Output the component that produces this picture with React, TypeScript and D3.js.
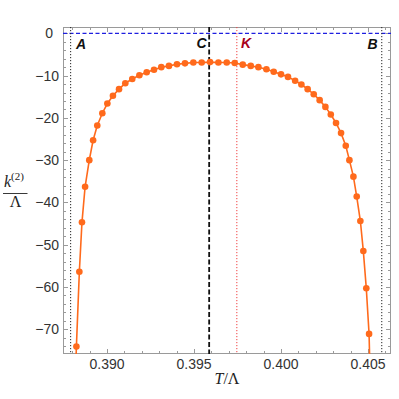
import { useEffect, useRef } from "react"
import * as d3 from "d3"

const tValues = [
  0.38812, 0.38824, 0.38841, 0.38856, 0.38874, 0.38898, 0.3892, 0.38944, 0.38973, 0.39002,
  0.39034, 0.39069, 0.39105, 0.39145, 0.39186, 0.39228, 0.3927, 0.39312, 0.39356, 0.39402,
  0.39448, 0.39496, 0.39544, 0.39592, 0.3964, 0.39688, 0.39734, 0.3978, 0.39826, 0.3987,
  0.39916, 0.39958, 0.4, 0.4004, 0.40081, 0.40117, 0.40153, 0.40188, 0.40222, 0.40255,
  0.40286, 0.40316, 0.40345, 0.40372, 0.40393, 0.40416, 0.40435, 0.40456, 0.40473, 0.4049,
  0.40506, 0.40514,
]
// k^(2)/Λ values
const kValues = [
  -90, -74.1, -56.4, -44.7, -36.3, -30.0, -25.3, -21.8, -18.9, -16.6,
  -14.75, -13.2, -11.8, -10.8, -9.9, -9.2, -8.6, -8.0, -7.7, -7.3,
  -7.1, -6.9, -6.9, -6.8, -6.9, -6.9, -7.0, -7.4, -7.7, -8.0,
  -8.5, -9.1, -9.7, -10.3, -11.2, -12.1, -13.2, -14.4, -15.8, -17.4,
  -19.2, -21.2, -23.6, -26.6, -30.0, -33.9, -38.6, -44.4, -51.5, -60.3,
  -71.1, -85,
]
// points that are only there so the line leaves the frame
const offFrame = [0, 51]

const xTicks = [0.39, 0.395, 0.4, 0.405]
const yTicks = [0, -10, -20, -30, -40, -50, -60, -70]

// vertical marker lines
const markers = [
  { name: "A", t: 0.38791, kind: "dotted" },
  { name: "C", t: 0.39587, kind: "dashed" },
  { name: "K", t: 0.39746, kind: "red" },
  { name: "B", t: 0.40579, kind: "dotted" },
]

const App = () => {
  const svgRef = useRef(null)

  useEffect(() => {
    const width = 399
    const height = 399
    const left = 63
    const right = 391
    const top = 27
    const bottom = 354

    const x = d3.scaleLinear().domain([0.38747, 0.40632]).range([left, right])
    const y = d3.scaleLinear().domain([1.5, -75.85]).range([top, bottom])

    const svg = d3.select(svgRef.current).attr("width", width).attr("height", height)
    svg.selectAll("*").remove()

    svg.append("defs").append("clipPath").attr("id", "plotclip")
      .append("rect").attr("x", left).attr("y", top).attr("width", right - left).attr("height", bottom - top)

    const frameColor = "#9a9a9a"

    // ticks on all four sides, pointing inward
    const ticks = svg.append("g").attr("stroke", frameColor).attr("stroke-width", 1)
    const xMinor = d3.range(0.388, 0.4065, 0.001)
    xMinor.forEach((t) => {
      const major = xTicks.some((m) => Math.abs(m - t) < 1e-6)
      const len = major ? 5 : 3
      const px = Math.round(x(t)) + 0.5
      ticks.append("line").attr("x1", px).attr("x2", px).attr("y1", bottom).attr("y2", bottom - len)
      ticks.append("line").attr("x1", px).attr("x2", px).attr("y1", top).attr("y2", top + len)
    })
    d3.range(0, -76, -2).forEach((v) => {
      const major = v % 10 === 0
      const len = major ? 5 : 3
      const py = Math.round(y(v)) + 0.5
      ticks.append("line").attr("x1", left).attr("x2", left + len).attr("y1", py).attr("y2", py)
      ticks.append("line").attr("x1", right).attr("x2", right - len).attr("y1", py).attr("y2", py)
    })

    // frame
    svg.append("rect")
      .attr("x", left + 0.5).attr("y", top + 0.5)
      .attr("width", right - left - 1).attr("height", bottom - top - 1)
      .attr("fill", "none").attr("stroke", frameColor).attr("stroke-width", 1)

    // tick labels
    svg.append("g").selectAll("text").data(xTicks).enter().append("text")
      .attr("x", (d) => x(d)).attr("y", 368.5)
      .attr("text-anchor", "middle")
      .style("font-family", "Liberation Sans, Arial, sans-serif").style("font-size", "14px")
      .attr("fill", "#333")
      .text((d) => d3.format(".3f")(d))

    svg.append("g").selectAll("text").data(yTicks).enter().append("text")
      .attr("x", (d) => (d === 0 ? 53 : 59)).attr("y", (d) => y(d) + 5)
      .attr("text-anchor", "end")
      .style("font-family", "Liberation Sans, Arial, sans-serif").style("font-size", "14px")
      .attr("fill", "#333")
      .text((d) => (d < 0 ? "\u2212" + Math.abs(d) : String(d)))

    const plot = svg.append("g").attr("clip-path", "url(#plotclip)")

    // horizontal zero line
    plot.append("line")
      .attr("x1", left).attr("x2", right).attr("y1", y(0)).attr("y2", y(0))
      .attr("stroke", "#1f1fe0").attr("stroke-width", 1.3).attr("stroke-dasharray", "4,2.5")

    // vertical markers
    markers.forEach((m) => {
      const line = plot.append("line")
        .attr("x1", x(m.t)).attr("x2", x(m.t)).attr("y1", top).attr("y2", bottom)
      if (m.kind === "dashed") line.attr("stroke", "#111").attr("stroke-width", 1.8).attr("stroke-dasharray", "5,2.5")
      else if (m.kind === "red") line.attr("stroke", "#f04040").attr("stroke-width", 1).attr("stroke-dasharray", "1.2,1.8")
      else line.attr("stroke", "#222").attr("stroke-width", 1).attr("stroke-dasharray", "1.2,1.8")
    })

    // curve
    const pts = tValues.map((t, i) => [t, kValues[i]])
    const line = d3.line().x((d) => x(d[0])).y((d) => y(d[1]))
    plot.append("path").datum(pts).attr("d", line)
      .attr("fill", "none").attr("stroke", "#ff6a1c").attr("stroke-width", 1.6)
    plot.selectAll("circle").data(pts.filter((d, i) => !offFrame.includes(i))).enter().append("circle")
      .attr("cx", (d) => x(d[0])).attr("cy", (d) => y(d[1])).attr("r", 3.3)
      .attr("fill", "#ff6a1c")

    // marker labels
    const labelPos = { A: [76, 49, "#111"], C: [196.5, 48, "#111"], K: [241, 48, "#a8001a"], B: [367.5, 49, "#111"] }
    Object.entries(labelPos).forEach(([name, [lx, ly, c]]) => {
      svg.append("text").attr("x", lx).attr("y", ly)
        .style("font-family", "Liberation Sans, Arial, sans-serif").style("font-size", "14px")
        .style("font-weight", "bold").style("font-style", "italic")
        .attr("fill", c).text(name)
    })

    // axis labels
    const serif = "Liberation Serif, Times New Roman, serif"
    const xl = svg.append("text").attr("x", 227).attr("y", 384).attr("text-anchor", "middle")
      .style("font-family", serif).style("font-size", "16px").attr("fill", "#222")
    xl.append("tspan").style("font-style", "italic").text("T")
    xl.append("tspan").text("/\u039b")

    const yl = svg.append("text").attr("x", 4).attr("y", 187)
      .style("font-family", serif).style("font-size", "16px").attr("fill", "#222")
    yl.append("tspan").style("font-style", "italic").text("k")
    yl.append("tspan").attr("dy", -7).style("font-size", "11px").text("(2)")
    svg.append("line").attr("x1", 3).attr("x2", 27.5).attr("y1", 193.5).attr("y2", 193.5)
      .attr("stroke", "#222").attr("stroke-width", 0.9)
    svg.append("text").attr("x", 15.5).attr("y", 207).attr("text-anchor", "middle")
      .style("font-family", serif).style("font-size", "16px").attr("fill", "#222").text("\u039b")
  }, [])

  return (
    <div style={{ position: "absolute", left: 0, top: 0 }}>
      <svg ref={svgRef} style={{ display: "block" }}></svg>
    </div>
  )
}

export default App
